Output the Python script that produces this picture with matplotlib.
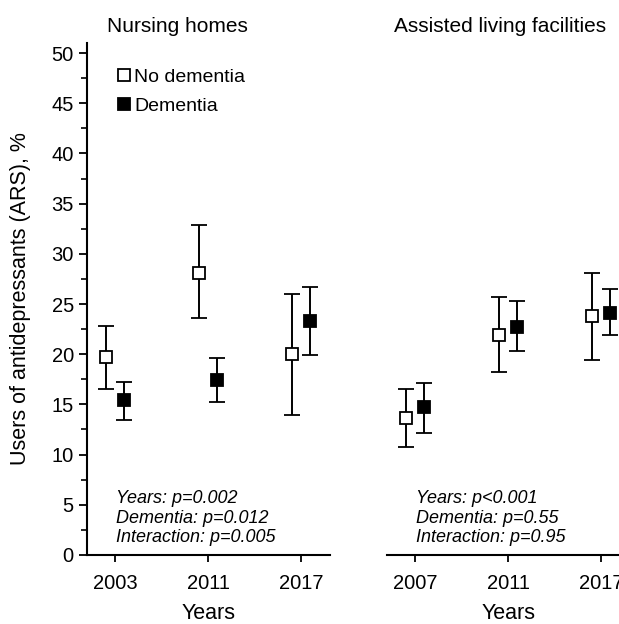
import matplotlib.pyplot as plt
from matplotlib.lines import Line2D
import numpy as np

plt.rcParams['font.family'] = ['Liberation Sans', 'DejaVu Sans']

### data ###
nh_years = ['2003', '2011', '2017']
nh_nodem = [19.7, 28.1, 20.0]
nh_nodem_lo = [16.5, 23.6, 13.9]
nh_nodem_hi = [22.8, 32.9, 26.0]
nh_dem = [15.4, 17.4, 23.3]
nh_dem_lo = [13.4, 15.2, 19.9]
nh_dem_hi = [17.2, 19.6, 26.7]

al_years = ['2007', '2011', '2017']
al_nodem = [13.6, 21.9, 23.8]
al_nodem_lo = [10.8, 18.2, 19.4]
al_nodem_hi = [16.5, 25.7, 28.1]
al_dem = [14.7, 22.7, 24.1]
al_dem_lo = [12.2, 20.3, 21.9]
al_dem_hi = [17.1, 25.3, 26.5]

nh_stats = ['Years: p=0.002', 'Dementia: p=0.012', 'Interaction: p=0.005']
al_stats = ['Years: p<0.001', 'Dementia: p=0.55', 'Interaction: p=0.95']

fig = plt.figure(figsize=(6.19, 6.24), dpi=100)
ax1 = fig.add_axes([0.1406, 0.1106, 0.3926, 0.8205])
ax2 = fig.add_axes([0.6252, 0.1106, 0.3926, 0.8205])

def draw_panel(ax, years, nd, nd_lo, nd_hi, d, d_lo, d_hi, stats):
  x = np.arange(1, len(years) + 1)
  nd = np.array(nd); d = np.array(d)
  err_nd = [nd - np.array(nd_lo), np.array(nd_hi) - nd]
  err_d = [d - np.array(d_lo), np.array(d_hi) - d]
  ax.errorbar(x - 0.1, nd, yerr=err_nd, fmt='s', color='black', mfc='white', mec='black',
              ms=8.5, mew=1.3, elinewidth=1.4, capsize=6, capthick=1.4, zorder=3)
  ax.errorbar(x + 0.1, d, yerr=err_d, fmt='s', color='black', mfc='black', mec='black',
              ms=8.5, mew=1.3, elinewidth=1.4, capsize=6, capthick=1.4, zorder=3)
  ax.set_xlim(0.7, 3.31)
  ax.set_ylim(0, 51)
  ax.set_xticks(x)
  ax.set_xticklabels(years, fontsize=14.5)
  ax.set_xlabel('Years', fontsize=15.5, labelpad=7)
  ax.spines['top'].set_visible(False)
  ax.spines['right'].set_visible(False)
  ax.spines['bottom'].set_linewidth(1.5)
  ax.spines['left'].set_linewidth(1.5)
  ax.tick_params(axis='x', direction='out', length=5, width=1.3, pad=9)
  ax.text(0.12, 0.072, '\n'.join(stats), transform=ax.transAxes, fontsize=13,
          style='italic', va='center', ha='left', linespacing=1.2)

draw_panel(ax1, nh_years, nh_nodem, nh_nodem_lo, nh_nodem_hi, nh_dem, nh_dem_lo, nh_dem_hi, nh_stats)
draw_panel(ax2, al_years, al_nodem, al_nodem_lo, al_nodem_hi, al_dem, al_dem_lo, al_dem_hi, al_stats)

ax1.set_yticks(np.arange(0, 51, 5))
ax1.set_yticks(np.arange(2.5, 50, 5), minor=True)
ax1.tick_params(axis='y', which='major', direction='out', length=6, width=1.3, labelsize=14.5)
ax1.tick_params(axis='y', which='minor', direction='out', length=4, width=1.2)
ax1.set_ylabel('Users of antidepressants (ARS), %', fontsize=15.5)
ax1.yaxis.set_label_coords(-0.23, 0.5)

ax2.spines['left'].set_visible(False)
ax2.set_yticks([])

handles = [Line2D([], [], ls='none', marker='s', ms=8.5, mfc='white', mec='black', mew=1.3),
           Line2D([], [], ls='none', marker='s', ms=8.5, mfc='black', mec='black', mew=1.3)]
ax1.legend(handles, ['No dementia', 'Dementia'], loc='upper left', bbox_to_anchor=(0.129, 0.95),
           frameon=False, fontsize=14, handlelength=0.6, handletextpad=0.2, labelspacing=0.55,
           borderaxespad=0, borderpad=0)

fig.text(0.286, 0.957, 'Nursing homes', fontsize=15, ha='center', va='center')
fig.text(0.808, 0.957, 'Assisted living facilities', fontsize=15, ha='center', va='center')

plt.savefig('out.png', dpi=100)
